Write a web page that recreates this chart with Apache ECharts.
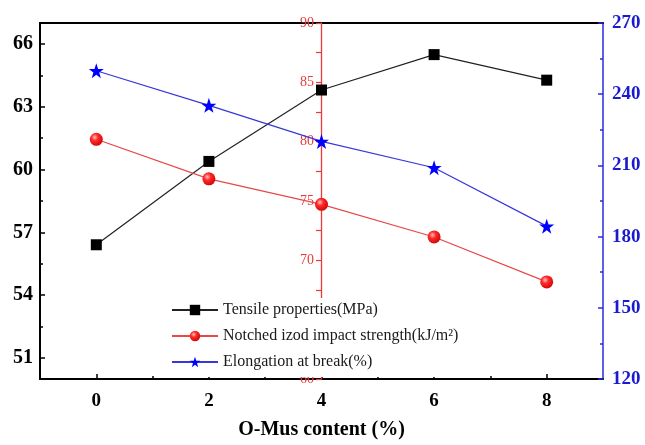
<!DOCTYPE html>
<html>
<head>
<meta charset="utf-8">
<script src="https://cdn.jsdelivr.net/npm/echarts@6/dist/echarts.min.js"></script>
<style>html,body{margin:0;padding:0;background:#fff}#c{width:645px;height:445px}</style>
</head>
<body>
<div id="c"></div>
<script>
// ---- data ----
var contents = [0, 2, 4, 6, 8];
var tensile = [56.41, 60.39, 63.80, 65.49, 64.27];
var impact = [80.2, 76.87, 74.72, 71.97, 68.18];
var elongation = [249.9, 235.3, 220.1, 209.0, 184.4];
var seriesNames = ['Tensile properties(MPa)', 'Notched izod impact strength(kJ/m\u00B2)', 'Elongation at break(%)'];
var xTicks = [0, 2, 4, 6, 8];
var xMinorTicks = [1, 3, 5, 7];
var leftTicks = [51, 54, 57, 60, 63, 66];
var leftMinorTicks = [52.5, 55.5, 58.5, 61.5, 64.5];
var xName = 'O-Mus content (%)';

function pairs(ys) { return contents.map(function (x, i) { return [x, ys[i]]; }); }

var SERIF = '"Liberation Serif", "DejaVu Serif", serif';
var RED = '#e83a3a';
var starPath = 'path://M50,0 L61.8,35.1 L98.1,35.1 L68.8,56.7 L79.4,91 L50,70 L20.6,91 L31.2,56.7 L1.9,35.1 L38.2,35.1 Z';
var ball = {
  type: 'radial', x: 0.38, y: 0.35, r: 0.75,
  colorStops: [{offset: 0, color: '#ffc0c0'}, {offset: 0.35, color: '#ff2a2a'}, {offset: 1, color: '#c80000'}]
};

var chart = echarts.init(document.getElementById('c'));
var option = {
  backgroundColor: '#fff',
  animation: false,
  grid: {left: 40, top: 23, right: 42, bottom: 58},
  legend: {
    orient: 'vertical', left: 167, top: 298,
    itemWidth: 46, itemHeight: 13, itemGap: 10,
    backgroundColor: '#fff', padding: [4, 6, 7, 4],
    textStyle: {fontFamily: SERIF, fontSize: 16, color: '#1a1a1a'},
    data: seriesNames
  },
  xAxis: [
    {
      id: 'xMain', type: 'value', min: -1, max: 9, position: 'bottom',
      axisLine: {onZero: false, lineStyle: {color: '#000', width: 2}},
      axisTick: {inside: true, length: 5, customValues: xTicks, lineStyle: {color: '#000', width: 1.5}},
      axisLabel: {customValues: xTicks, margin: 13, fontFamily: SERIF, fontWeight: 'bold', fontSize: 19, color: '#000'},
      splitLine: {show: false},
      name: xName, nameLocation: 'middle', nameGap: 41,
      nameTextStyle: {fontFamily: SERIF, fontWeight: 'bold', fontSize: 20, color: '#000'}
    },
    {
      id: 'xMinor', type: 'value', min: -1, max: 9, position: 'bottom',
      axisLine: {show: false, onZero: false},
      axisTick: {inside: true, length: 3, customValues: xMinorTicks, lineStyle: {color: '#000', width: 1.5}},
      axisLabel: {show: false}, splitLine: {show: false}
    },
    {
      id: 'xTop', type: 'value', min: -1, max: 9, position: 'top',
      axisLine: {onZero: false, lineStyle: {color: '#000', width: 2}},
      axisTick: {show: false}, axisLabel: {show: false}, splitLine: {show: false}
    }
  ],
  yAxis: [
    {
      id: 'yLeft', type: 'value', min: 50, max: 67, position: 'left',
      axisLine: {show: true, onZero: false, lineStyle: {color: '#000', width: 2}},
      axisTick: {show: true, inside: true, length: 5, customValues: leftTicks, lineStyle: {color: '#000', width: 1.5}},
      axisLabel: {customValues: leftTicks, margin: 7, fontFamily: SERIF, fontWeight: 'bold', fontSize: 20, color: '#000'},
      splitLine: {show: false}
    },
    {
      id: 'yLeftMinor', type: 'value', min: 50, max: 67, position: 'left',
      axisLine: {show: false, onZero: false},
      axisTick: {show: true, inside: true, length: 3, customValues: leftMinorTicks, lineStyle: {color: '#000', width: 1.5}},
      axisLabel: {show: false}, splitLine: {show: false}
    },
    {
      id: 'yRight', type: 'value', min: 120, max: 270, interval: 30, position: 'right',
      axisLine: {show: true, onZero: false, lineStyle: {color: '#2a2ae0', width: 1.5}},
      axisTick: {show: true, inside: true, length: 5, lineStyle: {color: '#2a2ae0', width: 1.5}},
      minorTick: {show: true, splitNumber: 2, length: 3, lineStyle: {color: '#2a2ae0', width: 1.5}},
      axisLabel: {margin: 9, fontFamily: SERIF, fontWeight: 'bold', fontSize: 19, color: '#1a1ad0'},
      splitLine: {show: false}
    },
    {
      id: 'yRed', type: 'value', min: 60, max: 90, interval: 5, position: 'left', offset: -281, z: 1,
      axisLine: {show: true, onZero: false, lineStyle: {color: RED, width: 1.3}},
      axisTick: {show: true, inside: false, length: 5, lineStyle: {color: RED, width: 1.2}},
      minorTick: {show: true, splitNumber: 2, length: 5, lineStyle: {color: RED, width: 1.2}},
      axisLabel: {margin: 7, fontFamily: SERIF, fontSize: 14, color: RED},
      splitLine: {show: false}
    }
  ],
  series: [
    {
      name: seriesNames[0], type: 'line', xAxisId: 'xMain', yAxisId: 'yLeft',
      data: pairs(tensile), symbol: 'rect', symbolSize: 11,
      lineStyle: {color: '#222', width: 1.2}, itemStyle: {color: '#000'}, z: 5
    },
    {
      name: seriesNames[1], type: 'line', xAxisId: 'xMain', yAxisId: 'yRed',
      data: pairs(impact), symbol: 'circle', symbolSize: 13,
      lineStyle: {color: '#e84848', width: 1.2}, itemStyle: {color: ball}, z: 5
    },
    {
      name: seriesNames[2], type: 'line', xAxisId: 'xMain', yAxisId: 'yRight',
      data: pairs(elongation), symbol: starPath, symbolSize: 15,
      lineStyle: {color: '#3838d8', width: 1.2}, itemStyle: {color: '#0000ff'}, z: 5
    }
  ]
};
chart.setOption(option);
</script>
</body>
</html>
